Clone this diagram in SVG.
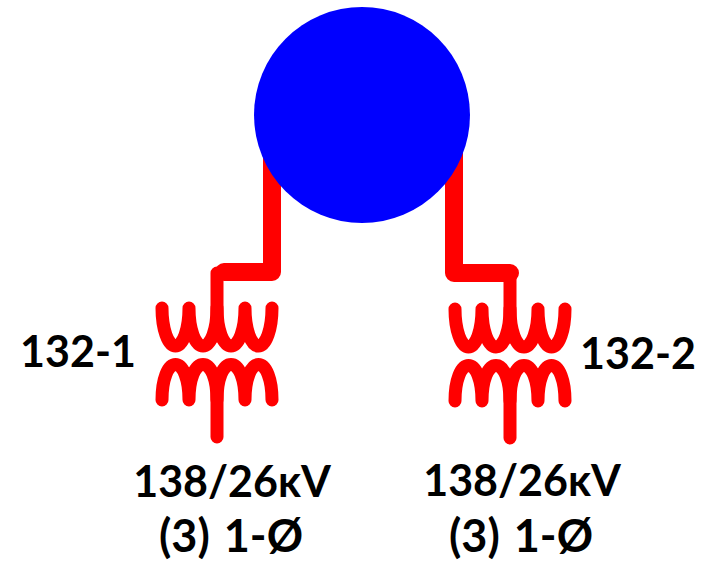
<svg xmlns="http://www.w3.org/2000/svg" width="710" height="563" viewBox="0 0 710 563">
<style>
.w{fill:none;stroke:#f00;stroke-linecap:round;stroke-linejoin:round}
.c{stroke-width:13}
.b{stroke-width:18}
text{font-family:"Lato","Liberation Sans",sans-serif;font-weight:700;font-size:43px;fill:#000;text-anchor:middle}
.s{font-size:45px;word-spacing:3px}
</style>
<defs>
<g id="xf">
<path class="w c" d="M-55 57C-55 78-49 95-41.500 95C-34 95-28 78-28 57C-28 78-22 95-14 95C-6 95 0 78 0 57C0 78 6 95 14 95C22 95 28 78 28 57C28 78 34 95 41.500 95C49 95 55 78 55 57"/>
<path class="w c" d="M-55 149C-55 128-49 113.500-41.500 113.500C-34 113.500-28 128-28 149M-28 149C-28 128-22 113.500-14 113.500C-6 113.500 0 128 0 149M0 149C0 128 6 113.500 14 113.500C22 113.500 28 128 28 149M28 149C28 128 34 113.500 41.500 113.500C49 113.500 55 128 55 149"/>
<path class="w c" d="M0 85V22M0 125V186"/>
</g>
</defs>
<g id="connectors">
<path class="w b" d="M272 150V272H224"/>
<path class="w b" d="M454 150V273H510"/>
</g>
<g id="bus"><circle cx="362" cy="115" r="108" fill="#00f"/></g>
<g id="t132-1"><use href="#xf" x="217" y="251"/>
<text x="78" y="367">132-1</text>
<text x="232" y="497">138/26κV</text>
<text x="231" y="552" class="s">(3) 1-Ø</text></g>
<g id="t132-2"><use href="#xf" x="510" y="252"/>
<text x="638" y="369">132-2</text>
<text x="522" y="496">138/26κV</text>
<text x="521" y="552" class="s">(3) 1-Ø</text></g>
</svg>
